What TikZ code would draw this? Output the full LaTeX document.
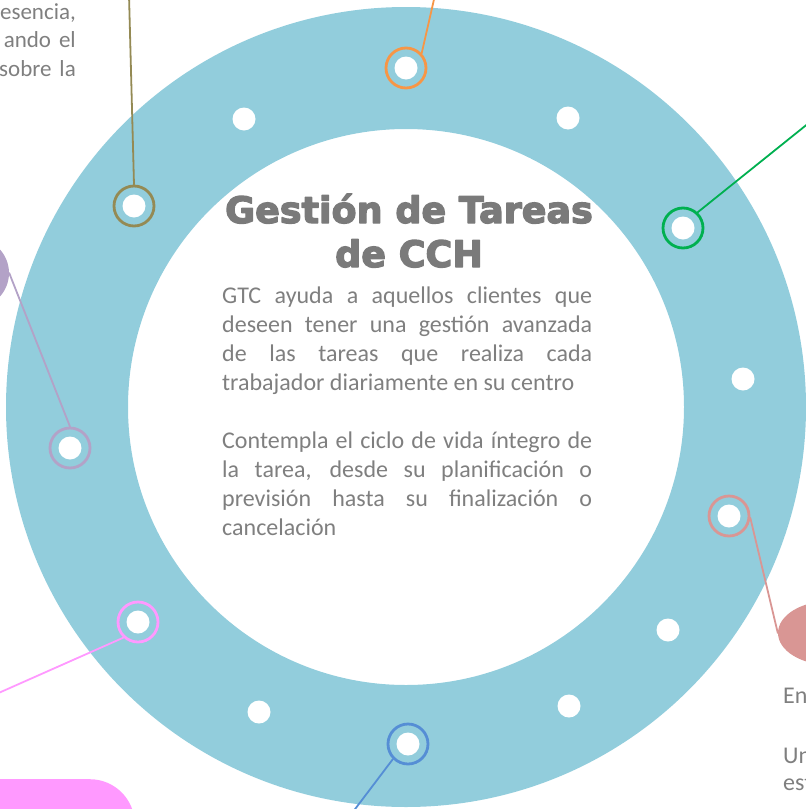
\documentclass[tikz,border=0pt]{standalone}
\usepackage{fontspec}
\setmainfont{Carlito}
\newfontfamily\titlefont{DejaVu Sans Bold}[FakeBold=3.5]
\usetikzlibrary{shapes.geometric}
\definecolor{ringblue}{HTML}{92CDDC}
\definecolor{textgray}{HTML}{7F7F7F}
\definecolor{titlegray}{HTML}{7A7A7A}
\definecolor{cOrange}{HTML}{F79646}
\definecolor{cGreen}{HTML}{00B050}
\definecolor{cRed}{HTML}{D99694}
\definecolor{cBlue}{HTML}{558ED5}
\definecolor{cPink}{HTML}{FF99FF}
\definecolor{cPurple}{HTML}{B3A2C7}
\definecolor{cOlive}{HTML}{948A54}
\setlength{\parindent}{0pt}

\begin{document}
\begin{tikzpicture}[x=1pt,y=-1pt,line cap=round,line join=round,
  bubble/.style={circle,draw=#1,line width=2.8pt,minimum size=40pt,inner sep=0pt,
    path picture={\fill[white] (path picture bounding box.center) circle (11.5pt);}},
  dot/.style={circle,fill=white,minimum size=23pt,inner sep=0pt},
  link/.style={draw=#1,line width=1.8pt},
  txt/.style={text=textgray,font=\fontsize{24}{29}\selectfont,inner sep=0pt}]
\useasboundingbox (0,0) rectangle (806,809);
\clip (0,0) rectangle (806,809);
\fill[ringblue,even odd rule] (406,407) circle (400) (406,407) circle (278);

\node[circle,fill=cPurple,minimum size=70pt,inner sep=0pt] (ppblob) at (-26,273) {};
\node[ellipse,fill=cRed,minimum width=104pt,minimum height=64pt,inner sep=0pt] (rdblob) at (830,633) {};
\node[rectangle,rounded corners=45pt,fill=cPink,minimum width=195pt,minimum height=120pt,anchor=north east] (pkbox) at (135,779) {};

\node[dot] (d1) at (568,118) {};
\node[dot] (d2) at (743,379) {};
\node[dot] (d3) at (668,630) {};
\node[dot] (d4) at (569,706) {};
\node[dot] (d5) at (259,712) {};
\node[dot] (d6) at (244,119) {};

\node[bubble=cOrange] (orb) at (406,68) {};
\node[bubble=cGreen] (grb) at (683,228) {};
\node[bubble=cRed] (rdb) at (729,516) {};
\node[bubble=cBlue] (blb) at (408,744) {};
\node[bubble=cPink] (pkb) at (138,622) {};
\node[bubble=cPurple] (ppb) at (70,448) {};
\node[bubble=cOlive] (olb) at (134,206) {};

\coordinate (orend) at (435,-5);
\coordinate (grend) at (830,106);
\coordinate (blend) at (340,829);
\coordinate (pkend) at (-24,703);
\coordinate (olend) at (129,-5);

\draw[link=cOrange] (orb.43) -- (orend);
\draw[link=cGreen] (grb.47) -- (grend);
\draw[link=cRed] (rdb.-5) -- (rdblob.west);
\draw[link=cBlue] (blb.225) -- (blend);
\draw[link=cPink] (pkb.227) -- (pkend);
\draw[link=cPurple] (ppb.north) -- (ppblob.east);
\draw[link=cOlive] (olb.north) -- (olend);

\node[anchor=base,inner sep=0pt,text=titlegray,align=center,
  font=\titlefont\fontsize{36.5}{44}\selectfont] (title) at (409,267) {Gestión de Tareas\\de CCH};
\node[txt,anchor=north west,text width=370pt,align=justify] (body) at (222,287)
  {GTC ayuda a aquellos clientes que\linebreak deseen tener una gestión avanzada\linebreak
   de las tareas que realiza cada\linebreak trabajador diariamente en su centro\par\vspace{29pt}
   Contempla el ciclo de vida íntegro de\linebreak la tarea, desde su planificación o\linebreak
   previsión hasta su finalización o\linebreak cancelación};

\node[txt,anchor=base east,font=\fontsize{23}{29}\selectfont] (tl1) at (76,19) {esencia,};
\node[txt,anchor=base east,font=\fontsize{23}{29}\selectfont] (tl2) at (76,47) {ando\hspace{8pt}el};
\node[txt,anchor=base east,font=\fontsize{23}{29}\selectfont] (tl3) at (76,76) {sobre\hspace{8pt}la};

\node[txt,anchor=base west] (br1) at (783,703) {En};
\node[txt,anchor=base west] (br2) at (783,763) {Un};
\node[txt,anchor=base west] (br3) at (783,790) {est};
\end{tikzpicture}
\end{document}
